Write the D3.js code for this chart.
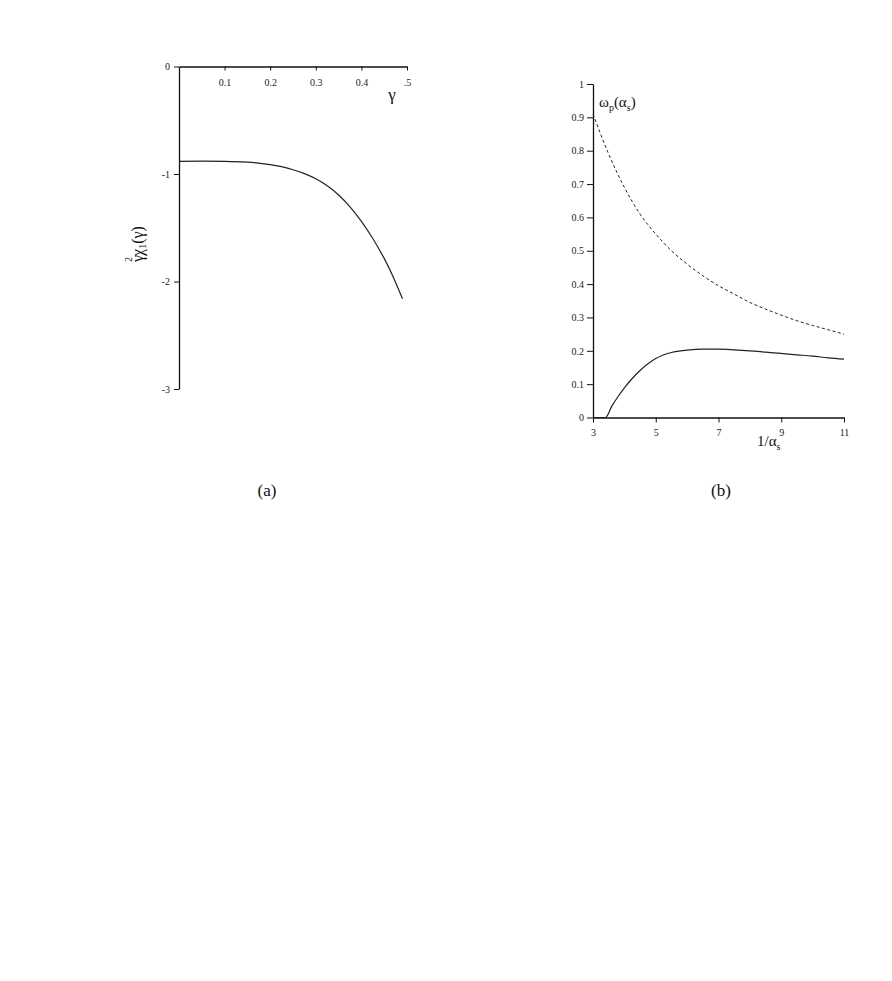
<!DOCTYPE html>
<html>
<head>
<meta charset="utf-8">
<script src="https://cdn.jsdelivr.net/npm/d3@7"></script>
<style>
  body { margin: 0; background: #fff; }
  svg { display: block; }
  .tick text { font-family: 'Liberation Serif', serif; font-size: 10px; fill: #222; }
  .lbl { font-family: 'Liberation Serif', serif; fill: #111; }
</style>
</head>
<body>
<div id="chart"></div>
<script>
// panel (a): gamma^2 chi_1(gamma)
var gammaVals = [0, 0.05, 0.1, 0.15, 0.175, 0.2, 0.225, 0.25, 0.275, 0.3, 0.325, 0.35, 0.375, 0.4, 0.425, 0.45, 0.47, 0.49];
var chiVals = [-0.882, -0.881, -0.883, -0.89, -0.899, -0.912, -0.932, -0.96, -0.997, -1.045, -1.11, -1.195, -1.305, -1.44, -1.6, -1.785, -1.96, -2.16];
var aXTicks = [0.1, 0.2, 0.3, 0.4, 0.5];
var aXTickLabels = ['0.1', '0.2', '0.3', '0.4', '.5'];
var aYTicks = [0, -1, -2, -3];
var aYTickLabels = ['0', '-1', '-2', '-3'];

// panel (b): omega_p(alpha_s)
var invAlpha = [3, 3.4, 3.6, 3.8, 4, 4.25, 4.5, 4.75, 5, 5.5, 6, 6.5, 7, 7.5, 8, 8.5, 9, 9.5, 10, 10.5, 11];
var omegaSolid = [0, 0, 0.034, 0.063, 0.089, 0.117, 0.141, 0.161, 0.177, 0.195, 0.202, 0.205, 0.205, 0.203, 0.200, 0.196, 0.192, 0.188, 0.184, 0.179, 0.175];
var invAlphaDash = [3, 3.5, 4, 4.5, 5, 5.5, 6, 6.5, 7, 7.5, 8, 8.5, 9, 9.5, 10, 10.5, 11];
var omegaDash = [0.91, 0.79, 0.69, 0.61, 0.55, 0.50, 0.46, 0.425, 0.395, 0.37, 0.345, 0.325, 0.307, 0.29, 0.276, 0.263, 0.25];
var bXTicks = [3, 5, 7, 9, 11];
var bYTicks = [0, 0.1, 0.2, 0.3, 0.4, 0.5, 0.6, 0.7, 0.8, 0.9, 1];
var bYTickLabels = ['0', '0.1', '0.2', '0.3', '0.4', '0.5', '0.6', '0.7', '0.8', '0.9', '1'];

var width = 892;
var height = 981;

var svg = d3.select('#chart')
            .append('svg')
            .attr('width', width)
            .attr('height', height);

function styleAxis(g) {
  g.select('.domain').attr('stroke', '#111').attr('stroke-width', 1.3);
  g.selectAll('.tick line').attr('stroke', '#111').attr('stroke-width', 1);
}

// ---- panel (a) ----
var ax = d3.scaleLinear().domain([0, 0.5]).range([179, 407]);
var ay = d3.scaleLinear().domain([0, -3]).range([66.5, 389]);

svg.append('g')
   .attr('transform', 'translate(0,' + ay(0) + ')')
   .call(d3.axisBottom(ax)
           .tickValues(aXTicks)
           .tickFormat(function (d, i) { return aXTickLabels[i]; })
           .tickSize(4)
           .tickPadding(8)
           .tickSizeOuter(0))
   .call(styleAxis);

svg.append('g')
   .attr('transform', 'translate(' + ax(0) + ',0)')
   .call(d3.axisLeft(ay)
           .tickValues(aYTicks)
           .tickFormat(function (d, i) { return aYTickLabels[i]; })
           .tickSize(5)
           .tickPadding(4)
           .tickSizeOuter(0))
   .call(styleAxis);

var aLine = d3.line()
              .x(function (d, i) { return ax(gammaVals[i]); })
              .y(function (d) { return ay(d); })
              .curve(d3.curveNatural);

svg.append('path')
   .datum(chiVals)
   .attr('d', aLine)
   .attr('fill', 'none')
   .attr('stroke', '#222')
   .attr('stroke-width', 1.2);

svg.append('text')
   .attr('class', 'lbl')
   .attr('x', 392)
   .attr('y', 100)
   .attr('text-anchor', 'middle')
   .attr('font-size', 17)
   .text('γ');

// rotated y label
var yl = svg.append('text')
            .attr('class', 'lbl')
            .attr('text-anchor', 'middle')
            .attr('font-size', 16)
            .attr('transform', 'translate(143,244)rotate(-90)');
yl.append('tspan').text('γ');
yl.append('tspan').attr('font-size', 10).attr('dx', -7).attr('dy', -11).text('2');
yl.append('tspan').attr('dy', 11).attr('dx', 1).text('χ');
yl.append('tspan').attr('font-size', 10).attr('dy', 3).text('1');
yl.append('tspan').attr('dy', -3).text('(γ)');

svg.append('text')
   .attr('class', 'lbl')
   .attr('x', 267)
   .attr('y', 496)
   .attr('text-anchor', 'middle')
   .attr('font-size', 17)
   .text('(a)');

// ---- panel (b) ----
var bx = d3.scaleLinear().domain([3, 11]).range([593, 844]);
var by = d3.scaleLinear().domain([0, 1]).range([417.5, 84]);

svg.append('g')
   .attr('transform', 'translate(0,' + by(0) + ')')
   .call(d3.axisBottom(bx)
           .tickValues(bXTicks)
           .tickFormat(d3.format('d'))
           .tickSize(5)
           .tickPadding(6)
           .tickSizeOuter(0))
   .call(styleAxis);

svg.append('g')
   .attr('transform', 'translate(' + bx(3) + ',0)')
   .call(d3.axisLeft(by)
           .tickValues(bYTicks)
           .tickFormat(function (d, i) { return bYTickLabels[i]; })
           .tickSize(6)
           .tickPadding(3)
           .tickSizeOuter(0))
   .call(styleAxis);

var bLine = d3.line()
              .x(function (d) { return bx(d[0]); })
              .y(function (d) { return by(d[1]); })
              .curve(d3.curveMonotoneX);

svg.append('path')
   .datum(d3.zip(invAlpha, omegaSolid))
   .attr('d', bLine)
   .attr('fill', 'none')
   .attr('stroke', '#222')
   .attr('stroke-width', 1.2);

svg.append('path')
   .datum(d3.zip(invAlphaDash, omegaDash))
   .attr('d', bLine)
   .attr('fill', 'none')
   .attr('stroke', '#222')
   .attr('stroke-width', 1)
   .attr('stroke-dasharray', '3,2.5');

var wl = svg.append('text')
            .attr('class', 'lbl')
            .attr('x', 599)
            .attr('y', 107)
            .attr('font-size', 15);
wl.append('tspan').text('ω');
wl.append('tspan').attr('font-size', 10).attr('dy', 4).text('p');
wl.append('tspan').attr('dy', -4).text('(α');
wl.append('tspan').attr('font-size', 10).attr('dy', 4).text('s');
wl.append('tspan').attr('dy', -4).text(')');

var xl = svg.append('text')
            .attr('class', 'lbl')
            .attr('x', 757)
            .attr('y', 446)
            .attr('font-size', 15);
xl.append('tspan').text('1/α');
xl.append('tspan').attr('font-size', 10).attr('dy', 4).text('s');

svg.append('text')
   .attr('class', 'lbl')
   .attr('x', 721)
   .attr('y', 496)
   .attr('text-anchor', 'middle')
   .attr('font-size', 17)
   .text('(b)');
</script>
</body>
</html>
